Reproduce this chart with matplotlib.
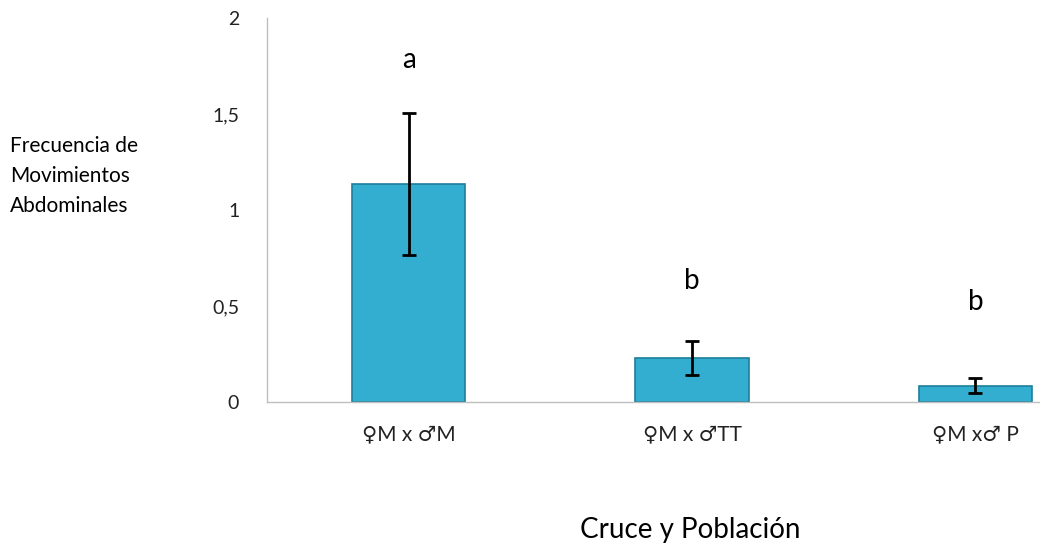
import numpy as np
import matplotlib
matplotlib.use('Agg')
import matplotlib.pyplot as plt
from matplotlib.ticker import FuncFormatter

plt.rcParams['font.family'] = ['Lato', 'DejaVu Sans']

# data
crosses = ["\u2640M x \u2642M", "\u2640M x \u2642TT", "\u2640M x\u2642 P"]
means = [1.135, 0.23, 0.085]
errors = [0.37, 0.09, 0.04]
letters = ["a", "b", "b"]
letter_y = [1.78, 0.63, 0.52]
yticks = [0, 0.5, 1, 1.5, 2]

fig = plt.figure(figsize=(10.4, 5.48), dpi=100)
# axes right edge runs past the picture, as in the original
ax = fig.add_axes([267/1040, 146/548, 850/1040, 384/548])

ind = np.arange(len(crosses))
ax.bar(ind, means, width=0.40, color="#34AED0", edgecolor="#1E7F99",
       linewidth=1.2, zorder=2)
ax.errorbar(ind, means, yerr=errors, fmt='none', ecolor='black',
            elinewidth=2, capsize=5, capthick=2, zorder=3)

for i in ind:
    ax.text(i, letter_y[i], letters[i], ha='center', va='center',
            fontsize=20, color='black')

ax.set_xlim(-0.5, 2.5)
ax.set_ylim(0, 2.0)
ax.set_yticks(yticks)
ax.yaxis.set_major_formatter(FuncFormatter(lambda v, p: ('%g' % v).replace('.', ',')))
ax.set_xticks(ind)
ax.set_xticklabels(crosses, fontsize=15, color='#222222')
ax.tick_params(axis='both', length=0)
ax.tick_params(axis='y', pad=20, labelsize=14, labelcolor='#222222')
ax.tick_params(axis='x', pad=16)

for s in ['top', 'right']:
    ax.spines[s].set_visible(False)
for s in ['left', 'bottom']:
    ax.spines[s].set_color('#BFBFBF')
    ax.spines[s].set_linewidth(1)

fig.text(10/1040, 1 - 176/548, "Frecuencia de\nMovimientos\nAbdominales",
         ha='left', va='center', fontsize=15, linespacing=1.65)
fig.text(690/1040, 1 - 530/548, "Cruce y Población", ha='center',
         va='center', fontsize=20)

plt.savefig("out.png", dpi=100)
